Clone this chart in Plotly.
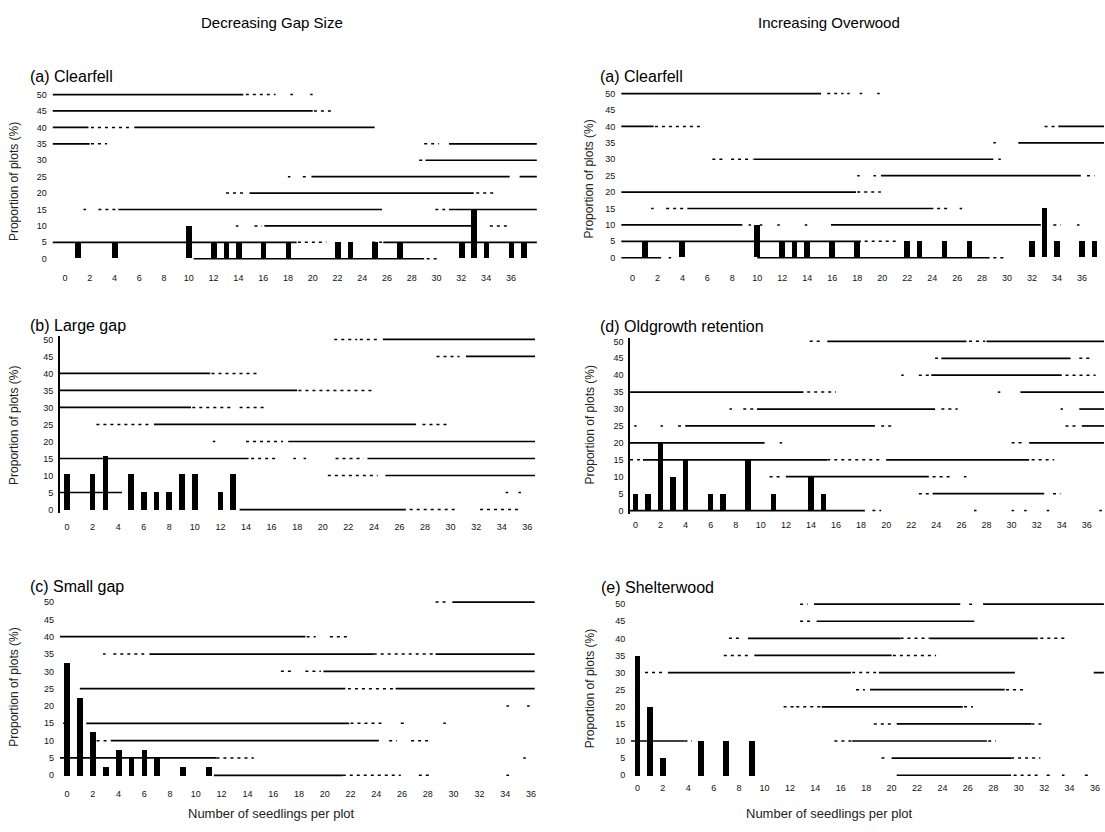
import plotly.graph_objects as go

W, H = 1105, 832

# ---------------- data ----------------
x_ticks = list(range(0, 37, 2))
y_ticks = list(range(0, 51, 5))

# bars: number of seedlings per plot -> proportion of plots (%)
clearfell_x = [1, 4, 10, 12, 13, 14, 16, 18, 22, 23, 25, 27, 32, 33, 34, 36, 37]
clearfell_y = [5, 5, 10, 5, 5, 5, 5, 5, 5, 5, 5, 5, 5, 15, 5, 5, 5]
large_gap_x = [0, 2, 3, 5, 6, 7, 8, 9, 10, 12, 13]
large_gap_y = [10.53, 10.53, 15.79, 10.53, 5.26, 5.26, 5.26, 10.53, 10.53, 5.26, 10.53]
small_gap_x = [0, 1, 2, 3, 4, 5, 6, 7, 9, 11]
small_gap_y = [32.5, 22.5, 12.5, 2.5, 7.5, 5, 7.5, 5, 2.5, 2.5]
oldgrowth_x = [0, 1, 2, 3, 4, 6, 7, 9, 11, 14, 15]
oldgrowth_y = [5, 5, 20, 10, 15, 5, 5, 15, 5, 10, 5]
shelter_x = [0, 1, 2, 5, 7, 9]
shelter_y = [35, 20, 5, 10, 10, 10]

# broken gridline fragments: (level %, from seedlings, to seedlings)
cfL_solid = [(50, -1, 14.4), (45, -1, 20), (40, -1, 1.9), (40, 5.6, 25), (35, -1, 2), (35, 31, 38.1),
             (30, 29.1, 38.1), (25, 19.9, 35.9), (25, 36.7, 38.1), (20, 14.9, 33), (15, 4.3, 25.6),
             (15, 31, 38.1), (10, 16.1, 33), (5, -1, 18.7), (5, 25.7, 38.1), (0, 10.4, 29)]
cfL_dotted = [(50, 14.6, 17), (50, 18.2, 18.4), (50, 19.8, 20), (45, 20.1, 21.7), (40, 2.1, 5.5),
              (35, 2.1, 3.4), (35, 29, 30.2), (30, 28.6, 28.9), (25, 18, 18.2), (25, 19.2, 19.7),
              (20, 13, 14.7), (20, 33.2, 34.6), (15, 1.5, 1.7), (15, 2.7, 4.1), (15, 29.9, 30.7),
              (10, 13.8, 14), (10, 15.3, 15.9), (10, 34.3, 35.9), (5, 18.8, 21.1), (5, 24.8, 25.6),
              (0, 29.2, 30.2)]
cfR_solid = [(50, -0.9, 15.1), (40, -0.9, 1.7), (40, 34.1, 37.8), (35, 30.9, 37.8), (30, 9.7, 28.9),
             (25, 19.9, 35.9), (20, -0.9, 17.9), (15, 4.4, 24.1), (10, -0.9, 8.8), (10, 15.9, 32.7),
             (5, -0.9, 18.3), (0, -0.9, 2.3), (0, 10, 28.6)]
cfR_dotted = [(50, 15.6, 16.9), (50, 17.2, 17.4), (50, 18.2, 18.4), (50, 19.6, 19.8), (40, 1.8, 5.6),
              (40, 33, 34), (35, 28.9, 29.1), (30, 6.4, 7.4), (30, 7.9, 9.6), (30, 29.3, 29.5),
              (25, 18, 18.2), (25, 19.3, 19.5), (25, 36.4, 37), (20, 18, 19.9), (15, 1.5, 1.7),
              (15, 2.7, 4.3), (15, 24.4, 25.4), (15, 26.2, 26.4), (10, 9.3, 9.5), (10, 10.2, 10.4),
              (10, 11.6, 11.8), (10, 13.8, 14), (10, 33.7, 34.3), (10, 35.6, 35.8), (5, 18.6, 21.1),
              (0, 2.9, 3.1), (0, 28.9, 29.9)]
lg_solid = [(50, 24.7, 36.6), (45, 31.2, 36.6), (40, -0.55, 11.2), (35, -0.55, 18), (30, -0.55, 9.7),
            (25, 6.8, 27.3), (20, 17.3, 36.6), (15, -0.55, 14.2), (15, 23.5, 36.6), (10, 24.9, 36.6),
            (5, -0.55, 4.3), (0, 13.5, 26.5)]
lg_dotted = [(50, 20.9, 22.7), (50, 22.9, 24.4), (45, 28.9, 30.7), (40, 11.3, 14.9), (35, 18.1, 24),
             (30, 9.8, 13), (30, 13.5, 15.6), (25, 2.3, 6.6), (25, 27.8, 29.8), (20, 11.4, 11.6),
             (20, 14, 16.9), (15, 14.4, 16.3), (15, 17.7, 17.9), (15, 18.5, 18.7), (15, 21, 23.2),
             (10, 20.4, 24.3), (5, 34.3, 34.5), (5, 35.3, 35.5), (0, 26.8, 30.4), (0, 32.3, 35.4)]
sg_solid = [(50, 29.9, 36.3), (40, -0.55, 18.5), (35, 6.4, 23.8), (35, 28.6, 36.3), (30, 19.9, 36.3),
            (25, 1, 21.6), (25, 25.5, 36.3), (15, 1.5, 21.9), (10, 3.4, 24.2), (5, -0.55, 11.6),
            (0, 11.4, 21.4)]
sg_dotted = [(50, 28.6, 29.5), (40, 18.6, 19.3), (40, 20.4, 21.9), (35, 2.8, 3), (35, 3.6, 6),
             (35, 23.8, 28.6), (30, 16.6, 17.4), (30, 18.5, 19.7), (25, -0.2, 0), (25, 21.8, 25.5),
             (20, 34.1, 34.3), (20, 35.7, 35.9), (15, -0.3, -0.1), (15, 22, 24.7), (15, 25.9, 26.4),
             (15, 29.2, 29.4), (10, 2.3, 3.2), (10, 25, 25.6), (10, 26.7, 28.2), (5, 11.6, 14.5),
             (5, 35.4, 35.6), (0, 21.4, 25.9), (0, 27.3, 28.2), (0, 34.1, 34.3)]
og_solid = [(50, 15.3, 26.4), (50, 28, 37.4), (45, 24.4, 34.7), (40, 23.6, 34), (35, -0.43, 13.4),
            (35, 30.7, 37.4), (30, 9.7, 23.9), (30, 35.4, 37.4), (25, 4, 19.1), (25, 35.6, 37.4),
            (20, -0.43, 10.3), (20, 31.4, 37.4), (15, 0.6, 15.3), (15, 20, 31.4), (10, 12, 23.4),
            (5, 23.7, 32.6), (0, -0.43, 18.3)]
og_dotted = [(50, 13.9, 15), (50, 26.6, 27.9), (45, 23.9, 24.3), (45, 35.4, 36.3), (40, 21.2, 21.4),
             (40, 22.6, 23.4), (40, 34.3, 36.7), (35, 13.7, 16), (35, 28.9, 29.1), (30, 7.5, 7.7),
             (30, 8.6, 9.4), (30, 24.4, 25.7), (30, 33.9, 34.1), (25, -0.1, 0.1), (25, 2, 2.2),
             (25, 3.4, 4), (25, 19.6, 20.7), (25, 34.3, 35.4), (20, 11.5, 11.7), (20, 30, 31.1),
             (15, -0.43, 0.6), (15, 15.3, 19.6), (15, 31.6, 33.4), (10, 10.7, 11.7), (10, 23.7, 25.1),
             (10, 26.2, 26.4), (5, 22.6, 23.4), (5, 33.3, 33.9), (0, 18.9, 19.6), (0, 27, 27.2),
             (0, 30, 30.2), (0, 31, 31.2), (0, 32.8, 33), (0, 37, 37.2)]
sw_solid = [(50, 13.9, 25.4), (50, 27.2, 36.7), (45, 14.1, 26.5), (40, 8.7, 20.7), (40, 23, 31.5),
            (35, 9.2, 20), (30, 2.4, 16.8), (30, 19, 29.7), (30, 35.9, 36.7), (25, 18.3, 28.9),
            (20, 14.5, 25.6), (15, 20.4, 31), (10, -0.5, 3.7), (10, 16.9, 27.5), (5, 20, 29.4),
            (0, 20.4, 29.4)]
sw_dotted = [(50, 12.8, 13.4), (50, 26.1, 26.6), (45, 12.8, 13.7), (40, 7.2, 8.3), (40, 20.7, 23),
             (40, 31.7, 33.9), (35, 6.8, 9), (35, 20.1, 23.5), (30, 0.6, 2.1), (30, 16.9, 18.9),
             (25, 17.2, 17.9), (25, 29, 30.6), (20, 11.5, 12.3), (20, 12.5, 14.5), (20, 25.7, 26.4),
             (15, 18.6, 20), (15, 31, 31.8), (10, 3.7, 4.3), (10, 15.5, 16.9), (10, 27.6, 28.2),
             (5, 19.2, 19.7), (5, 29.4, 31.7), (0, 29.6, 31.5), (0, 32.2, 32.6), (0, 33.4, 33.6),
             (0, 35.2, 35.6)]

panel_titles = ["(a) Clearfell", "(b) Large gap", "(c) Small gap",
                "(a) Clearfell", "(d) Oldgrowth retention", "(e) Shelterwood"]
column_titles = ["Decreasing Gap Size", "Increasing Overwood"]
y_title = "Proportion of plots (%)"
x_title = "Number of seedlings per plot"

# ---------------- layout of panels (pixel boxes) ----------------
panels = [
    dict(bx=clearfell_x, by=clearfell_y, solid=cfL_solid, dotted=cfL_dotted,
         xr=[-1, 38.1], px=(52.6, 537.4), py=(89.7, 261.3), tl=7, yline=False,
         title=(28, 75), ytitle=(14, 180)),
    dict(bx=large_gap_x, by=large_gap_y, solid=lg_solid, dotted=lg_dotted,
         xr=[-0.55, 36.6], px=(60.0, 535.5), py=(335.6, 513.4), tl=5, yline=True,
         title=(28, 325), ytitle=(14, 425)),
    dict(bx=small_gap_x, by=small_gap_y, solid=sg_solid, dotted=sg_dotted,
         xr=[-0.55, 36.3], px=(59.9, 535.3), py=(599.5, 780.5), tl=6, yline=False,
         title=(28, 587), ytitle=(14, 688)),
    dict(bx=clearfell_x, by=clearfell_y, solid=cfR_solid, dotted=cfR_dotted,
         xr=[-0.9, 37.76], px=(621.75, 1105), py=(88.7, 260.3), tl=8, yline=False,
         title=(599, 75), ytitle=(590, 178)),
    dict(bx=oldgrowth_x, by=oldgrowth_y, solid=og_solid, dotted=og_dotted,
         xr=[-0.43, 37.37], px=(630.6, 1105), py=(337.6, 514.4), tl=2, yline=True,
         title=(599, 326), ytitle=(590, 425)),
    dict(bx=shelter_x, by=shelter_y, solid=sw_solid, dotted=sw_dotted,
         xr=[-0.5, 36.71], px=(631.6, 1105), py=(601.6, 780.4), tl=1, yline=False,
         title=(600, 588), ytitle=(590, 690)),
]

FONT = "Liberation Sans, Arial, sans-serif"


def seg_xy(segs):
    xs, ys = [], []
    for lvl, a, b in segs:
        xs += [a, b, None]
        ys += [lvl, lvl, None]
    return xs, ys


fig = go.Figure()
annotations = []
for i, p in enumerate(panels):
    k = "" if i == 0 else str(i + 1)
    xa, ya = "x" + k, "y" + k
    sx, sy = seg_xy(p["solid"])
    fig.add_trace(go.Scatter(x=sx, y=sy, mode="lines", xaxis=xa, yaxis=ya,
                             line=dict(color="black", width=1.7), hoverinfo="skip"))
    dx, dy = seg_xy(p["dotted"])
    fig.add_trace(go.Scatter(x=dx, y=dy, mode="lines", xaxis=xa, yaxis=ya,
                             line=dict(color="black", width=1.5, dash="3px,4px"), hoverinfo="skip"))
    fig.add_trace(go.Bar(x=p["bx"], y=p["by"], width=0.45, xaxis=xa, yaxis=ya,
                         marker=dict(color="black", line=dict(width=0))))
    fig.layout["xaxis" + k] = dict(
        domain=[p["px"][0] / W, p["px"][1] / W], range=p["xr"], anchor=ya,
        tickvals=x_ticks, ticks="outside", ticklen=p["tl"], tickcolor="rgba(0,0,0,0)",
        showgrid=False, zeroline=False, showline=False,
        tickfont=dict(size=9, color="#111", family=FONT))
    fig.layout["yaxis" + k] = dict(
        domain=[1 - p["py"][1] / H, 1 - p["py"][0] / H], range=[-1, 51], anchor=xa,
        tickvals=y_ticks, ticks="outside", ticklen=3, tickcolor="rgba(0,0,0,0)",
        showgrid=False, zeroline=False,
        showline=p["yline"], linecolor="black", linewidth=1.6,
        tickfont=dict(size=9, color="#111", family=FONT))
    annotations.append(dict(text=panel_titles[i], x=p["title"][0] / W, y=1 - p["title"][1] / H,
                            xref="paper", yref="paper", xanchor="left", yanchor="middle",
                            showarrow=False, font=dict(size=16, color="black", family=FONT)))
    annotations.append(dict(text=y_title, x=p["ytitle"][0] / W, y=1 - p["ytitle"][1] / H,
                            xref="paper", yref="paper", xanchor="center", yanchor="middle",
                            textangle=-90, showarrow=False,
                            font=dict(size=12, color="#222", family=FONT)))

for txt, cx in zip(column_titles, [272, 830]):
    annotations.append(dict(text=txt, x=cx / W, y=1 - 21 / H, xref="paper", yref="paper",
                            xanchor="center", yanchor="middle", showarrow=False,
                            font=dict(size=15, color="black", family=FONT)))
for cx in [272, 830]:
    annotations.append(dict(text=x_title, x=cx / W, y=1 - 815 / H, xref="paper", yref="paper",
                            xanchor="center", yanchor="middle", showarrow=False,
                            font=dict(size=13, color="#222", family=FONT)))

fig.update_layout(width=W, height=H, margin=dict(l=0, r=0, t=0, b=0),
                  paper_bgcolor="white", plot_bgcolor="white", showlegend=False,
                  bargap=0, annotations=annotations)

fig.write_html("out.html")
